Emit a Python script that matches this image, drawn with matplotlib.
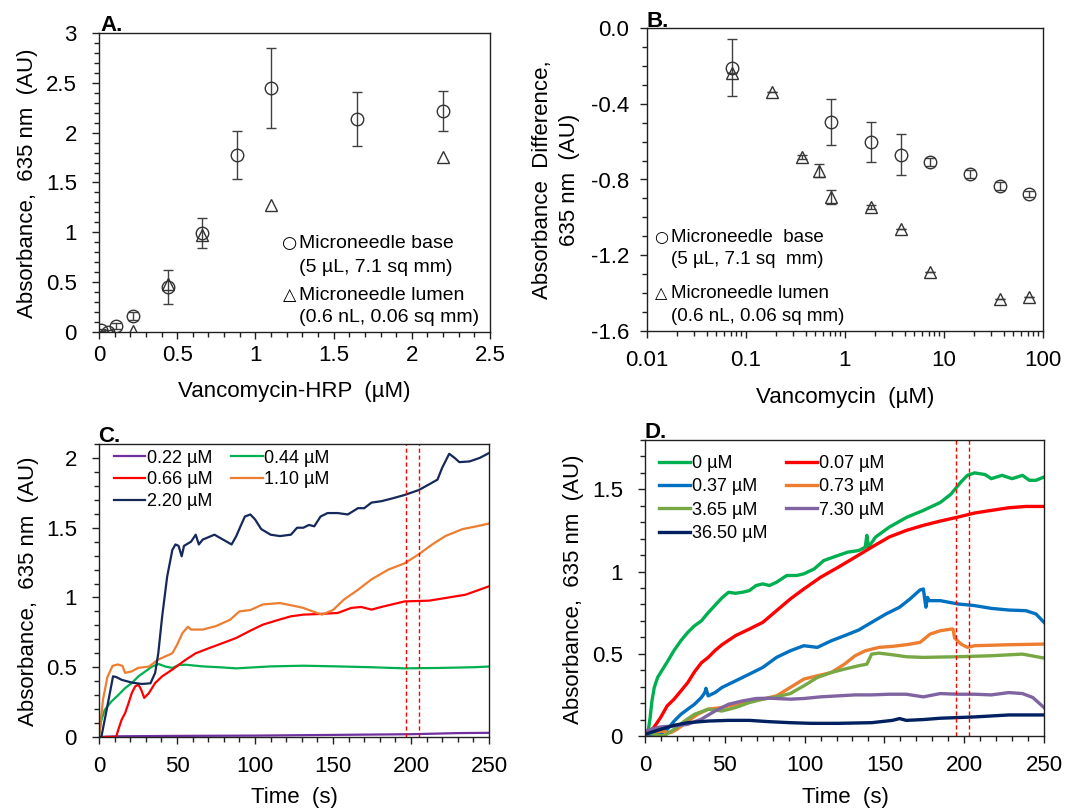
import matplotlib
matplotlib.use("Agg")
import matplotlib.pyplot as plt
from matplotlib.ticker import MultipleLocator, FuncFormatter, LogLocator, NullFormatter

plt.rcParams["font.family"] = ["Liberation Sans", "DejaVu Sans"]
plt.rcParams["axes.unicode_minus"] = False

W, H = 1067, 809

# ---- panel A: absorbance vs vancomycin-HRP ----
a_conc_base = [0.014, 0.055, 0.11, 0.22, 0.44, 0.66, 0.88, 1.10, 1.65, 2.20]
a_abs_base = [0.02, 0.0, 0.06, 0.16, 0.45, 0.99, 1.78, 2.45, 2.14, 2.22]
a_err_base = [0.01, 0.02, 0.03, 0.04, 0.17, 0.15, 0.24, 0.40, 0.27, 0.20]
a_conc_lumen = [0.22, 0.44, 0.66, 1.10, 2.20]
a_abs_lumen = [0.01, 0.48, 0.97, 1.27, 1.76]

# ---- panel B: absorbance difference vs vancomycin ----
b_conc_base = [0.073, 0.73, 1.825, 3.65, 7.3, 18.25, 36.5, 73]
b_diff_base = [-0.21, -0.495, -0.603, -0.668, -0.707, -0.771, -0.833, -0.875]
b_err_base = [0.15, 0.122, 0.105, 0.108, 0.02, 0.02, 0.02, 0.015]
b_conc_lumen = [0.073, 0.182, 0.365, 0.55, 0.73, 1.825, 3.65, 7.3, 36.5, 73]
b_diff_lumen = [-0.24, -0.34, -0.68, -0.753, -0.893, -0.946, -1.061, -1.29, -1.43, -1.423]
b_err_lumen = [0, 0, 0.01, 0.035, 0.035, 0.01, 0, 0, 0, 0]

# ---- panel C: kinetics, vancomycin-HRP ----
c_t_022 = [0, 10, 50, 100, 150, 200, 230, 250]
c_022 = [0.0, 0.005, 0.008, 0.01, 0.015, 0.02, 0.028, 0.03]
c_t_044 = [0, 1.5, 3.7, 8, 12.3, 16.7, 21, 25.3, 29.7, 34, 38.3, 42.6, 47, 51, 55.6,
           66.5, 77, 88, 99, 110, 131, 153, 174.7, 196, 218, 240, 250]
c_044 = [0.015, 0.12, 0.195, 0.255, 0.30, 0.35, 0.387, 0.435, 0.47, 0.505, 0.523, 0.505,
         0.495, 0.516, 0.518, 0.506, 0.50, 0.492, 0.499, 0.506, 0.511, 0.506, 0.50, 0.492,
         0.495, 0.50, 0.505]
c_t_066 = [0, 11, 12.3, 14.5, 16.7, 19, 21, 23.2, 25.3, 27, 29, 32, 36, 40.5, 47, 55.6, 62,
           70.8, 79.5, 88, 97, 105, 114, 123, 131, 142, 153, 161.7, 168, 174.7, 181, 190,
           196, 205, 211.5, 222, 235, 250]
c_066 = [0, 0, 0.05, 0.124, 0.17, 0.245, 0.315, 0.363, 0.375, 0.34, 0.28, 0.315, 0.387,
         0.435, 0.483, 0.554, 0.60, 0.638, 0.674, 0.71, 0.762, 0.805, 0.836, 0.865, 0.877,
         0.882, 0.889, 0.925, 0.932, 0.913, 0.932, 0.956, 0.972, 0.975, 0.977, 0.996, 1.02,
         1.08]
c_t_110 = [0, 2.6, 5.4, 8.7, 12, 15, 16.7, 21, 25, 32, 38, 47, 50, 53.5, 57, 59, 66.5, 75,
           84, 90, 97, 105, 116, 125, 131, 137, 143, 150, 157, 166, 174.7, 185.5, 196, 205,
           213.6, 222, 233, 242, 250]
c_110 = [0.0, 0.27, 0.43, 0.51, 0.52, 0.51, 0.46, 0.47, 0.495, 0.505, 0.555, 0.60, 0.66,
         0.745, 0.79, 0.77, 0.77, 0.795, 0.84, 0.90, 0.91, 0.95, 0.96, 0.94, 0.925, 0.90,
         0.877, 0.91, 0.985, 1.055, 1.13, 1.20, 1.245, 1.31, 1.38, 1.44, 1.49, 1.51, 1.53]
c_t_220 = [0, 1.5, 5, 9, 11, 14.5, 21, 27.5, 33, 36, 38, 40.5, 43.7, 47, 49, 51, 53, 54.5,
           59, 62, 64, 66.5, 74, 79.5, 85, 88, 90.7, 93.5, 97, 100, 104, 110, 116, 123, 127,
           131, 134.6, 138, 142, 146.5, 153, 159.5, 166, 170, 174.7, 181, 188, 196, 205,
           211.5, 217, 220, 224.5, 228, 231, 237.5, 244, 250]
c_220 = [0, 0, 0.2, 0.435, 0.43, 0.41, 0.39, 0.38, 0.385, 0.46, 0.6, 0.865, 1.15, 1.34,
         1.38, 1.37, 1.295, 1.37, 1.40, 1.45, 1.38, 1.415, 1.45, 1.415, 1.38, 1.44, 1.51,
         1.58, 1.595, 1.56, 1.49, 1.45, 1.44, 1.45, 1.50, 1.50, 1.52, 1.51, 1.58, 1.605,
         1.605, 1.595, 1.64, 1.64, 1.68, 1.69, 1.71, 1.735, 1.77, 1.81, 1.845, 1.93, 2.03,
         2.0, 1.97, 1.975, 2.0, 2.035]
c_marks = [197, 205]

# ---- panel D: kinetics, vancomycin competition ----
d_t_0 = [0, 1, 2, 3.2, 4.3, 5.8, 7.9, 10.7, 13.9, 18.2, 22.5, 26.8, 31, 35.3, 39.6, 43.9,
         48.2, 52.4, 56.7, 61, 65.3, 69.6, 73.8, 78, 82.4, 88.8, 95, 99.5, 106, 112, 121,
         127, 134, 138, 139, 140, 144.5, 153, 164, 174, 185, 191.6, 198, 202, 206.5, 213,
         217, 223.7, 230, 236.5, 240.8, 245, 250]
d_0 = [0, 0.01, 0.03, 0.11, 0.21, 0.295, 0.356, 0.40, 0.45, 0.52, 0.58, 0.63, 0.67, 0.70,
       0.75, 0.795, 0.84, 0.874, 0.868, 0.874, 0.884, 0.915, 0.925, 0.915, 0.935, 0.976,
       0.976, 0.986, 1.016, 1.067, 1.098, 1.118, 1.128, 1.148, 1.22, 1.148, 1.21, 1.27,
       1.33, 1.37, 1.42, 1.47, 1.545, 1.585, 1.60, 1.59, 1.565, 1.585, 1.565, 1.585, 1.555,
       1.555, 1.575]
d_t_007 = [0, 5.4, 9.6, 13.9, 18.2, 22.5, 26.8, 31, 35.3, 39.6, 43.9, 48.2, 56.7, 65.3,
           73.8, 82.4, 91, 99.5, 110, 121, 131.6, 142, 153, 163.7, 174, 185, 196, 206.5,
           217, 228, 238.7, 250]
d_007 = [0.01, 0.05, 0.11, 0.183, 0.224, 0.274, 0.325, 0.39, 0.445, 0.478, 0.52, 0.555,
         0.61, 0.65, 0.691, 0.762, 0.833, 0.894, 0.965, 1.026, 1.087, 1.148, 1.21, 1.25,
         1.28, 1.307, 1.331, 1.356, 1.372, 1.388, 1.396, 1.396]
d_t_037 = [0, 9.6, 13.9, 18.2, 22.5, 26.8, 31, 35.3, 37.5, 38.2, 39.6, 43.9, 48.2, 56.7,
           65.3, 73.8, 82.4, 91, 99.5, 108, 116.7, 125, 133.8, 142, 151, 159.5, 166, 172.3,
           174.4, 176, 177, 178, 185, 196, 206.5, 217, 228, 238.7, 245, 250]
d_037 = [0, 0.01, 0.04, 0.09, 0.132, 0.163, 0.193, 0.234, 0.264, 0.29, 0.244, 0.264, 0.295,
         0.335, 0.376, 0.417, 0.478, 0.518, 0.549, 0.539, 0.579, 0.61, 0.644, 0.691, 0.742,
         0.783, 0.833, 0.888, 0.894, 0.783, 0.843, 0.823, 0.823, 0.803, 0.793, 0.776, 0.766,
         0.762, 0.742, 0.691]
d_t_073 = [0, 9.6, 16, 20, 26.8, 33, 39.6, 48.2, 56.7, 65.3, 73.8, 82.4, 91, 99.5, 108,
           116.7, 125, 131.6, 138, 146.6, 155, 163.7, 172.3, 178.7, 185, 191.6, 193, 194,
           198, 202, 206.5, 228, 250]
d_073 = [0.01, 0.03, 0.02, 0.04, 0.09, 0.132, 0.163, 0.173, 0.193, 0.213, 0.224, 0.244,
         0.295, 0.346, 0.366, 0.386, 0.437, 0.488, 0.518, 0.539, 0.545, 0.555, 0.569, 0.62,
         0.64, 0.65, 0.65, 0.596, 0.559, 0.539, 0.549, 0.555, 0.559]
d_t_365 = [0, 11.8, 18.2, 24.6, 31, 39.6, 48.2, 56.7, 65.3, 73.8, 82.4, 91, 99.5, 108,
           116.7, 125, 133.8, 139, 142, 146.6, 155, 163.7, 174.4, 196, 217, 236.5, 250]
d_365 = [0.02, 0, 0.04, 0.09, 0.132, 0.163, 0.152, 0.173, 0.203, 0.224, 0.238, 0.258,
         0.305, 0.356, 0.386, 0.407, 0.427, 0.437, 0.498, 0.504, 0.494, 0.482, 0.478, 0.482,
         0.488, 0.498, 0.474]
d_t_730 = [0, 9.6, 18.2, 26.8, 35.3, 43.9, 52.4, 61, 69.6, 78, 91, 99.5, 110, 121, 131.6,
           142, 153, 163.7, 174.4, 185, 196, 206.5, 217, 228, 236.5, 243, 250]
d_730 = [0.03, 0.055, 0.061, 0.071, 0.102, 0.152, 0.193, 0.213, 0.228, 0.23, 0.224, 0.228,
         0.238, 0.244, 0.25, 0.25, 0.254, 0.254, 0.238, 0.258, 0.254, 0.254, 0.25, 0.264,
         0.258, 0.234, 0.173]
d_t_3650 = [0, 9.6, 18.2, 26.8, 39.6, 52.4, 65.3, 78, 91, 104, 121, 142, 155, 159.5, 163.7,
            174.4, 185, 206.5, 228, 250]
d_3650 = [0.01, 0.04, 0.065, 0.081, 0.091, 0.095, 0.095, 0.087, 0.081, 0.077, 0.077, 0.081,
          0.095, 0.106, 0.095, 0.10, 0.108, 0.116, 0.128, 0.128]
d_marks = [195, 203]


def rect(l, t, r, b):
    return [l / W, 1 - b / H, (r - l) / W, (b - t) / H]


def fpos(x, y):
    return x / W, 1 - y / H


def style(ax, xpad, ypad):
    for s in ax.spines.values():
        s.set_linewidth(1.0)
        s.set_color("#202020")
    ax.tick_params(which="both", direction="out", top=False, right=False,
                   width=1.0, color="#202020", labelsize=16)
    ax.tick_params(which="major", length=5)
    ax.tick_params(which="minor", length=3.5)
    ax.tick_params(axis="x", which="major", pad=xpad)
    ax.tick_params(axis="y", which="major", pad=ypad)


fig = plt.figure(figsize=(W / 100, H / 100), dpi=100)
ekw = dict(ecolor="#404040", elinewidth=1.0, capsize=3.5, capthick=1.0)
mkw = dict(mfc="none", mec="#333333", mew=1.0, linestyle="none")

# ---------------- A ----------------
ax = fig.add_axes(rect(99, 33, 490, 332))
style(ax, 4.5, 11)
ax.errorbar(a_conc_base, a_abs_base, yerr=a_err_base, marker="o", ms=9, **mkw, **ekw)
ax.plot(a_conc_lumen, a_abs_lumen, marker="^", ms=8, **mkw)
ax.set_xlim(0, 2.5)
ax.set_ylim(0, 3)
ax.xaxis.set_major_locator(MultipleLocator(0.5))
ax.xaxis.set_minor_locator(MultipleLocator(0.1))
ax.yaxis.set_major_locator(MultipleLocator(0.5))
ax.yaxis.set_minor_locator(MultipleLocator(0.1))
ax.xaxis.set_major_formatter(FuncFormatter(lambda v, p: f"{v:g}"))
ax.yaxis.set_major_formatter(FuncFormatter(lambda v, p: f"{v:g}"))

fig.text(*fpos(28, 183), "Absorbance,  635 nm  (AU)", rotation=90, ha="center",
         va="center", fontsize=16)
fig.text(*fpos(294, 392), "Vancomycin-HRP  (µM)", ha="center", va="center", fontsize=16)
fig.text(*fpos(100, 31), "A.", ha="left", va="baseline", fontsize=16, fontweight="bold")
fig.text(*fpos(290, 243), "○", ha="center", va="center", fontsize=12.5,
         family=["DejaVu Sans"])
fig.text(*fpos(299, 243), "Microneedle base", ha="left", va="center", fontsize=14)
fig.text(*fpos(299, 267), "(5 µL, 7.1 sq mm)", ha="left", va="center", fontsize=14)
fig.text(*fpos(290, 295), "△", ha="center", va="center", fontsize=12.5,
         family=["DejaVu Sans"])
fig.text(*fpos(299, 295), "Microneedle lumen", ha="left", va="center", fontsize=14)
fig.text(*fpos(299, 318), "(0.6 nL, 0.06 sq mm)", ha="left", va="center", fontsize=14)

# ---------------- B ----------------
ax = fig.add_axes(rect(647, 28, 1043, 331))
style(ax, 9, 8)
ax.set_xscale("log")
ax.errorbar(b_conc_base, b_diff_base, yerr=b_err_base, marker="o", ms=9, **mkw, **ekw)
ax.errorbar(b_conc_lumen, b_diff_lumen, yerr=b_err_lumen, marker="^", ms=8, **mkw, **ekw)
ax.set_xlim(0.01, 100)
ax.set_ylim(-1.6, 0)
ax.xaxis.set_major_locator(LogLocator(base=10))
ax.xaxis.set_minor_locator(LogLocator(base=10, subs=range(2, 10)))
ax.xaxis.set_minor_formatter(NullFormatter())
ax.xaxis.set_major_formatter(FuncFormatter(lambda v, p: f"{v:g}"))
ax.yaxis.set_major_locator(MultipleLocator(0.4))
ax.yaxis.set_minor_locator(MultipleLocator(0.1))
ax.yaxis.set_major_formatter(FuncFormatter(lambda v, p: f"{v:.1f}"))

fig.text(*fpos(556, 180), "Absorbance  Difference,\n635 nm  (AU)", rotation=90,
         ha="center", va="center", fontsize=16, linespacing=1.4, multialignment="center")
fig.text(*fpos(845, 398), "Vancomycin  (µM)", ha="center", va="center", fontsize=16)
fig.text(*fpos(647, 27), "B.", ha="left", va="baseline", fontsize=16, fontweight="bold")
fig.text(*fpos(661, 237), "○", ha="center", va="center", fontsize=11.5,
         family=["DejaVu Sans"])
fig.text(*fpos(671, 237), "Microneedle  base", ha="left", va="center", fontsize=13.5)
fig.text(*fpos(671, 260), "(5 µL, 7.1 sq  mm)", ha="left", va="center", fontsize=13.5)
fig.text(*fpos(661, 294), "△", ha="center", va="center", fontsize=11.5,
         family=["DejaVu Sans"])
fig.text(*fpos(671, 294), "Microneedle lumen", ha="left", va="center", fontsize=13.5)
fig.text(*fpos(671, 316), "(0.6 nL, 0.06 sq mm)", ha="left", va="center", fontsize=13.5)

# ---------------- C ----------------
ax = fig.add_axes(rect(99, 444, 489, 737))
style(ax, 9, 11)
lw_c = 1.6
h022, = ax.plot(c_t_022, c_022, color="#7030A0", lw=lw_c, label="0.22 µM")
h044, = ax.plot(c_t_044, c_044, color="#00B050", lw=lw_c, label="0.44 µM")
h066, = ax.plot(c_t_066, c_066, color="#FF0000", lw=lw_c, label="0.66 µM")
h110, = ax.plot(c_t_110, c_110, color="#ED7D31", lw=lw_c, label="1.10 µM")
h220, = ax.plot(c_t_220, c_220, color="#14285A", lw=lw_c, label="2.20 µM")
for t in c_marks:
    ax.axvline(t, color="#FF0000", lw=1.0, dashes=(3, 2))
ax.set_xlim(0, 250)
ax.set_ylim(0, 2.1)
ax.xaxis.set_major_locator(MultipleLocator(50))
ax.xaxis.set_minor_locator(MultipleLocator(10))
ax.yaxis.set_major_locator(MultipleLocator(0.5))
ax.yaxis.set_minor_locator(MultipleLocator(0.1))
ax.yaxis.set_major_formatter(FuncFormatter(lambda v, p: f"{v:g}"))
ax.legend(handles=[h022, h066, h220, h044, h110], ncol=2, frameon=False, fontsize=13,
          loc="upper left", bbox_to_anchor=fpos(114, 449.5), bbox_transform=fig.transFigure,
          borderpad=0, borderaxespad=0, handlelength=1.72, handletextpad=0.1,
          columnspacing=1.05, labelspacing=0.27)
fig.text(*fpos(29, 591), "Absorbance,  635 nm  (AU)", rotation=90, ha="center",
         va="center", fontsize=16)
fig.text(*fpos(294, 797), "Time  (s)", ha="center", va="center", fontsize=16)
fig.text(*fpos(98, 442), "C.", ha="left", va="baseline", fontsize=16, fontweight="bold")

# ---------------- D ----------------
ax = fig.add_axes(rect(645, 440, 1044, 736))
style(ax, 8.5, 11)
lw_d = 2.4
g0, = ax.plot(d_t_0, d_0, color="#00B050", lw=lw_d, label="0 µM")
g007, = ax.plot(d_t_007, d_007, color="#FF0000", lw=lw_d, label="0.07 µM")
g037, = ax.plot(d_t_037, d_037, color="#0070C0", lw=lw_d, label="0.37 µM")
g073, = ax.plot(d_t_073, d_073, color="#ED7D31", lw=lw_d, label="0.73 µM")
g365, = ax.plot(d_t_365, d_365, color="#77A844", lw=lw_d, label="3.65 µM")
g730, = ax.plot(d_t_730, d_730, color="#8064A2", lw=lw_d, label="7.30 µM")
g3650, = ax.plot(d_t_3650, d_3650, color="#002060", lw=lw_d, label="36.50 µM")
for t in d_marks:
    ax.axvline(t, color="#FF0000", lw=1.0, dashes=(3, 2))
ax.set_xlim(0, 250)
ax.set_ylim(0, 1.8)
ax.xaxis.set_major_locator(MultipleLocator(50))
ax.xaxis.set_minor_locator(MultipleLocator(10))
ax.yaxis.set_major_locator(MultipleLocator(0.5))
ax.yaxis.set_minor_locator(MultipleLocator(0.1))
ax.yaxis.set_major_formatter(FuncFormatter(lambda v, p: f"{v:g}"))
ax.legend(handles=[g0, g037, g365, g3650, g007, g073, g730], ncol=2, frameon=False,
          fontsize=13, loc="upper left", bbox_to_anchor=fpos(659, 455),
          bbox_transform=fig.transFigure, borderpad=0, borderaxespad=0,
          handlelength=1.72, handletextpad=0.1, columnspacing=1.05, labelspacing=0.35)
fig.text(*fpos(573, 589), "Absorbance,  635 nm  (AU)", rotation=90, ha="center",
         va="center", fontsize=16)
fig.text(*fpos(845, 797), "Time  (s)", ha="center", va="center", fontsize=16)
fig.text(*fpos(645, 438), "D.", ha="left", va="baseline", fontsize=16, fontweight="bold")

fig.savefig("out.png", dpi=100)
